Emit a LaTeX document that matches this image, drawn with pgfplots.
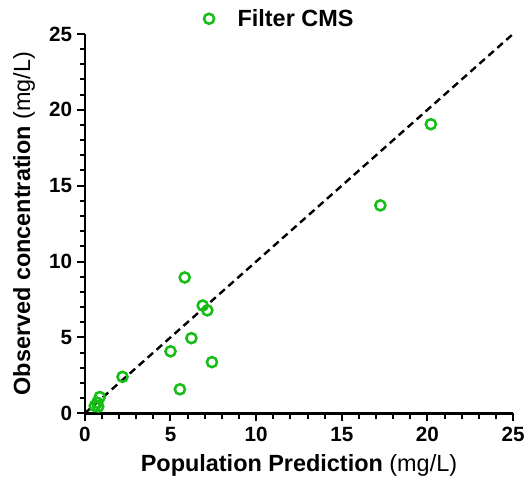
\documentclass[border=0pt]{standalone}
\usepackage{pgfplots}
\pgfplotsset{compat=1.18}
\usepackage{fontspec}
\setmainfont{Liberation Sans}
\definecolor{cmsgreen}{RGB}{20,190,20}
\begin{document}
\begin{tikzpicture}
\begin{axis}[
  scale only axis,
  width=321.75pt, height=285pt,
  xmin=0, xmax=25, ymin=0, ymax=25,
  axis x line=bottom, axis y line=left,
  axis line style={line width=1.9pt, -},
  xtick={0,5,...,25}, ytick={0,5,...,25},
  minor tick num=4,
  tick align=outside,
  major tick length=6pt, minor tick length=4pt,
  every tick/.style={black, line width=1.5pt},
  /pgf/number format/assume math mode=true,
  tick label style={font=\fontsize{15.5}{18}\selectfont\bfseries},
  xticklabel style={yshift=-1pt},
  label style={font=\fontsize{17.6}{21}\selectfont},
  xlabel={\textbf{Population Prediction} (mg/L)},
  ylabel={\textbf{Observed concentration} (mg/L)},
  xlabel style={at={(rel axis cs:0.5,-0.1368)}, anchor=center},
  ylabel style={at={(rel axis cs:-0.1422,0.5)}, anchor=center},
  legend style={draw=none, fill=none, at={(rel axis cs:0.447,1.04)}, anchor=center,
    font=\fontsize{17.6}{21}\selectfont\bfseries},
  legend image code/.code={\path (0cm,0cm) (0.95cm,0cm); \draw[#1, only marks] plot coordinates {(0.3cm,0cm)};},
  legend cell align=left,
  clip=false,
]
\coordinate (bl) at (rel axis cs:0,0);
\coordinate (tr) at (rel axis cs:1,1);
\addplot[only marks, mark=o, mark size=3.8pt, cmsgreen, line width=1.9pt] table {
x y
20.2 19.05
17.25 13.7
5.83 8.95
6.88 7.1
7.15 6.78
6.22 4.95
5.0 4.08
7.42 3.37
5.55 1.58
2.2 2.4
0.87 1.07
0.72 0.70
0.58 0.48
0.78 0.44
};
\addlegendentry{Filter CMS}
\addplot[black, dash pattern=on 5.5pt off 3.5pt, line width=1.8pt, forget plot] coordinates {(0,0) (25,25)};
\end{axis}
\path[use as bounding box] ([shift={(-63.75pt,-60.75pt)}]bl) rectangle ([shift={(11.25pt,25.5pt)}]tr);
\end{tikzpicture}
\end{document}
